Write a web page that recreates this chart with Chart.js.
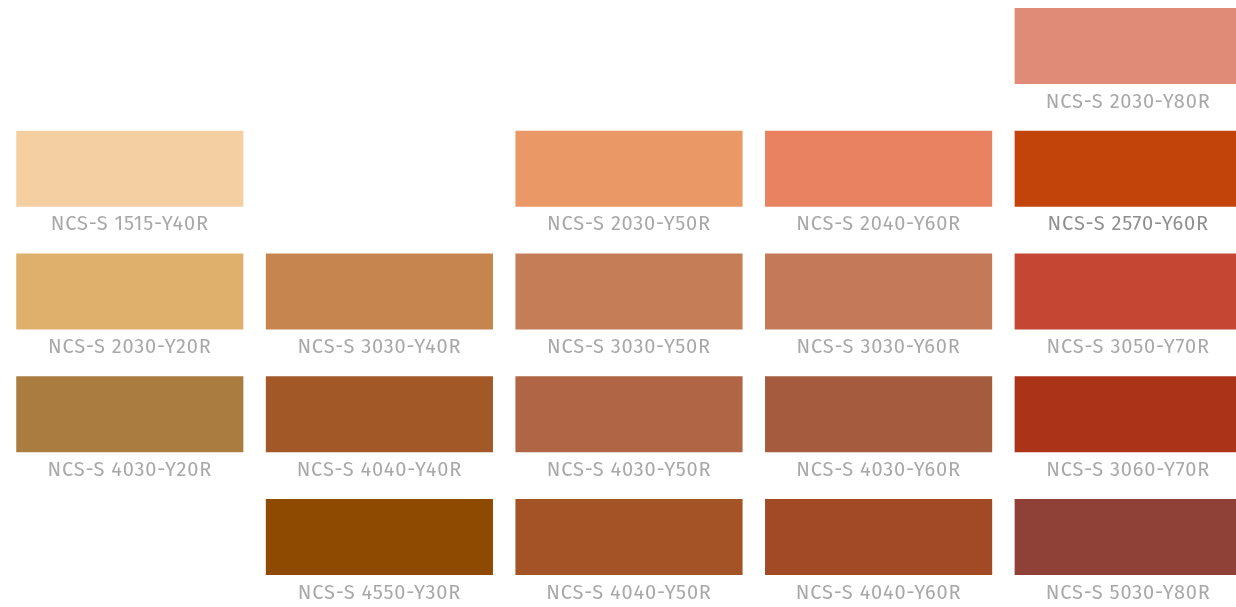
<!DOCTYPE html>
<html>
<head>
<meta charset="utf-8">
<script src="https://cdn.jsdelivr.net/npm/chart.js@4/dist/chart.umd.min.js"></script>
<style>
  html, body { margin: 0; padding: 0; background: #fff; overflow: hidden; }
  #wrap { position: absolute; left: 5px; top: 0; width: 1248px; height: 607px; }
</style>
</head>
<body>
<div id="wrap"><canvas id="swatches"></canvas></div>
<script>
// columns of the palette grid
const columns = ['c1', 'c2', 'c3', 'c4', 'c5'];

// swatch codes, one array per row (null = empty cell)
const row0Codes = [null, null, null, null, 'NCS-S 2030-Y80R'];
const row1Codes = ['NCS-S 1515-Y40R', null, 'NCS-S 2030-Y50R', 'NCS-S 2040-Y60R', 'NCS-S 2570-Y60R'];
const row2Codes = ['NCS-S 2030-Y20R', 'NCS-S 3030-Y40R', 'NCS-S 3030-Y50R', 'NCS-S 3030-Y60R', 'NCS-S 3050-Y70R'];
const row3Codes = ['NCS-S 4030-Y20R', 'NCS-S 4040-Y40R', 'NCS-S 4030-Y50R', 'NCS-S 4030-Y60R', 'NCS-S 3060-Y70R'];
const row4Codes = [null, 'NCS-S 4550-Y30R', 'NCS-S 4040-Y50R', 'NCS-S 4040-Y60R', 'NCS-S 5030-Y80R'];

// swatch colours, same layout
const row0Colors = [null, null, null, null, '#E08B78'];
const row1Colors = ['#F3CFA1', null, '#EA9966', '#E88260', '#C2440A'];
const row2Colors = ['#DFB06C', '#C6844F', '#C47D57', '#C47958', '#C44633'];
const row3Colors = ['#AB7C40', '#A35827', '#B06544', '#A55C3E', '#AB3318'];
const row4Colors = [null, '#8E4A00', '#A35326', '#A24A25', '#8F4138'];

// the one label shown darker in the reference
const highlighted = 'NCS-S 2570-Y60R';

const rowCodes = [row0Codes, row1Codes, row2Codes, row3Codes, row4Codes];
const rowColors = [row0Colors, row1Colors, row2Colors, row3Colors, row4Colors];
const swatchHeight = 0.62; // fraction of a row

const datasets = rowCodes.map((codes, r) => ({
    label: 'row ' + r,
    data: codes.map(c => c ? [r, r + swatchHeight] : null),
    codes: codes,
    backgroundColor: rowColors[r].map(c => c || 'rgba(0,0,0,0)'),
    borderWidth: 0,
    grouped: false,
    barPercentage: 0.91,
    categoryPercentage: 1
}));

// draw the code name under each swatch
const swatchLabels = {
    id: 'swatchLabels',
    afterDatasetsDraw(chart) {
        const ctx = chart.ctx;
        const yScale = chart.scales.y;
        ctx.save();
        ctx.font = '20px "Fira Sans", "Open Sans", sans-serif';
        ctx.letterSpacing = '0.8px';
        ctx.textAlign = 'center';
        ctx.textBaseline = 'alphabetic';
        chart.data.datasets.forEach((ds, r) => {
            const meta = chart.getDatasetMeta(r);
            meta.data.forEach((bar, i) => {
                const code = ds.codes[i];
                if (!code) return;
                const bottom = yScale.getPixelForValue(r + swatchHeight);
                ctx.fillStyle = code === highlighted ? '#8f8f8f' : '#a8a8a8';
                ctx.fillText(code, bar.x, bottom + 23.5);
            });
        });
        ctx.restore();
    }
};

new Chart(document.getElementById('swatches'), {
    type: 'bar',
    data: { labels: columns, datasets },
    options: {
        responsive: true,
        maintainAspectRatio: false,
        animation: false,
        layout: { padding: 0 },
        scales: {
            x: { display: false },
            y: { display: false, reverse: true, min: -8 / 122.75, max: 599 / 122.75 }
        },
        plugins: {
            legend: { display: false },
            tooltip: { enabled: false }
        }
    },
    plugins: [swatchLabels]
});
</script>
</body>
</html>
